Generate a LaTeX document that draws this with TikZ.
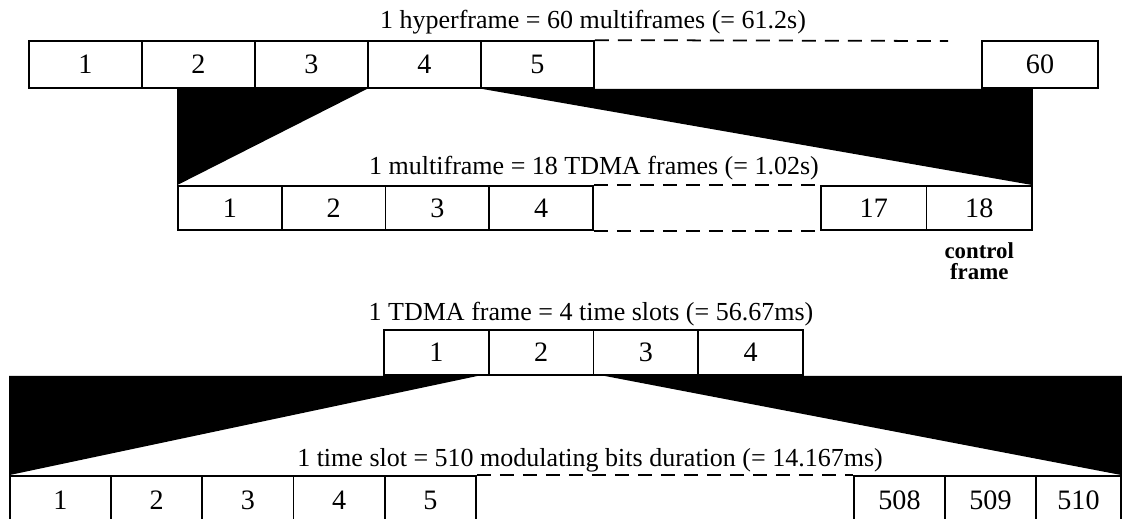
\documentclass[tikz,border=0pt]{standalone}
\usepackage{fontspec}
\setmainfont{Liberation Serif}
\usetikzlibrary{positioning}

\begin{document}
\begin{tikzpicture}[x=0.02cm, y=-0.02cm, line width=1pt,
  cell/.style={draw, rectangle, inner sep=0pt, font=\fontsize{16}{18}\selectfont},
  caption/.style={inner sep=0pt, font=\fontsize{14.8}{17}\selectfont},
  gapline/.style={dash pattern=on 0.28cm off 0.18cm}]
  \useasboundingbox (0,0) rectangle (1123,518);
  % hyperframe
  \node[caption] (hcap) at (593,22) {1 hyperframe = 60 multiframes (= 61.2s)};
  \foreach \i in {1,...,5} {\node[cell, minimum width=2.26cm, minimum height=0.94cm] (h\i) at ({29+113*(\i-0.5)},64.5) {\i};}
  \node[cell, minimum width=2.32cm, minimum height=0.94cm] (h60) at (1040,64.5) {60};
  \coordinate (hend) at (948,41);
  \draw[gapline] (h5.north east) -- (hend);
  % multiframe
  \node[caption] (mcap) at (594,168) {1 multiframe = 18 TDMA frames (= 1.02s)};
  \foreach \i in {1,...,4} {\node[cell, minimum width=2.075cm, minimum height=0.88cm] (m\i) at ({178+103.75*(\i-0.5)},208) {\i};}
  \node[cell, minimum width=2.11cm, minimum height=0.88cm] (m17) at (873.75,208) {17};
  \node[cell, minimum width=2.11cm, minimum height=0.88cm] (m18) at (979.25,208) {18};
  \draw[gapline] (m4.north east) -- (m17.north west);
  \draw[gapline] (m4.south east) -- (m17.south west);
  \node[below=0.1cm of m18, align=center, font=\bfseries\fontsize{13}{12}\selectfont] (ctl) {control\\frame};
  \fill (m1.north west |- h4.south west) -- (h4.south west) -- (m1.north west) -- cycle;
  \fill (h4.south east) -- (m18.north east |- h4.south east) -- (m18.north east) -- cycle;
  % TDMA frame
  \node[caption] (tcap) at (591,314) {1 TDMA frame = 4 time slots (= 56.67ms)};
  \foreach \i in {1,...,4} {\node[cell, minimum width=2.095cm, minimum height=0.9cm] (t\i) at ({384+104.75*(\i-0.5)},352.5) {\i};}
  % time slot
  \node[caption] (bcap) at (590,460) {1 time slot = 510 modulating bits duration (= 14.167ms)};
  \node[cell, minimum width=2.02cm, minimum height=0.96cm] (b1) at (60.5,500) {1};
  \foreach \i in {2,...,5} {\node[cell, minimum width=1.825cm, minimum height=0.96cm] (b\i) at ({111+91.25*(\i-1.5)},500) {\i};}
  \node[cell, minimum width=1.82cm, minimum height=0.96cm] (b508) at (899.5,500) {508};
  \node[cell, minimum width=1.82cm, minimum height=0.96cm] (b509) at (990.5,500) {509};
  \node[cell, minimum width=1.7cm, minimum height=0.96cm] (b510) at (1078.5,500) {510};
  \draw[gapline] (b5.north east) -- (b508.north west);
  \fill (b1.north west |- t2.south west) -- ([xshift=-0.2cm]t2.south west) -- (b1.north west) -- cycle;
  \fill ([xshift=0.2cm]t2.south east) -- (b510.north east |- t2.south east) -- (b510.north east) -- cycle;
\end{tikzpicture}
\end{document}
